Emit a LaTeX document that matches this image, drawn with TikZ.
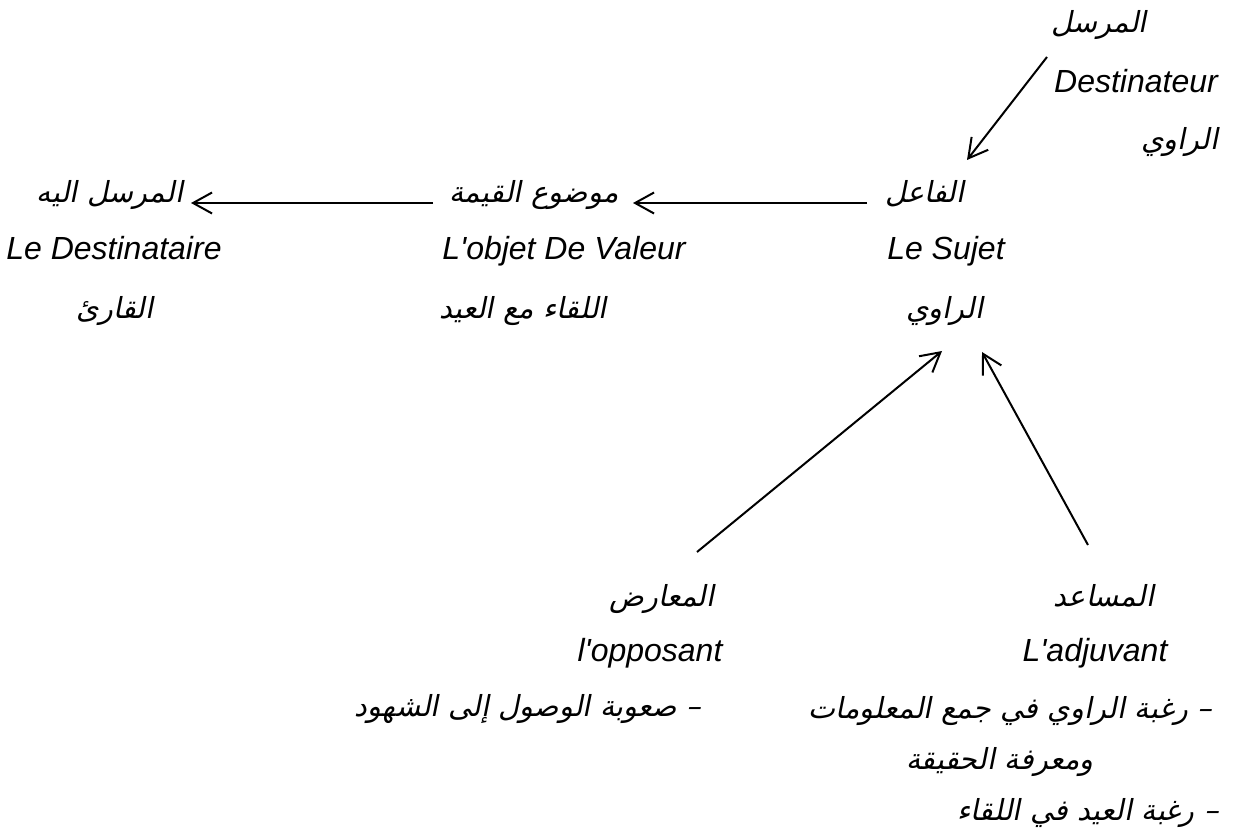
\documentclass[tikz,border=0pt]{standalone}
\usepackage{fontspec}
\setmainfont{Liberation Sans}
\newfontfamily\arabicfont[Script=Arabic,FakeSlant=0.2]{DejaVu Sans}
\TeXXeTstate=1
\usetikzlibrary{arrows.meta}
\newcommand{\artxt}[1]{\beginR #1\endR}
\tikzset{
	lat/.style={font=\fontsize{32}{38}\selectfont\itshape, inner sep=0pt, anchor=base},
	arb/.style={font=\fontsize{29}{35}\selectfont\arabicfont, inner sep=0pt, anchor=base},
	link/.style={line width=2pt, -{Straight Barb[length=19pt,width=21pt]}}
}
\begin{document}
\begin{tikzpicture}[x=1pt,y=-1pt]
			\useasboundingbox (0,0) rectangle (1235,834);
			\node [arb] (dest-ar) at (1099,33) {\artxt{المرسل}};
			\node [lat] (dest-lat) at (1136,93) {Destinateur};
			\node [arb] (dest-nar) at (1180,150) {\artxt{الراوي}};
			\node [arb] (subj-ar) at (925,203) {\artxt{الفاعل}};
			\node [lat] (subj-lat) at (946,260) {Le Sujet};
			\node [arb] (subj-nar) at (945,319) {\artxt{الراوي}};
			\node [arb] (obj-ar) at (534,203) {\artxt{موضوع القيمة}};
			\node [lat] (obj-lat) at (564,260) {L\textquotesingle objet De Valeur};
			\node [arb] (obj-val) at (523,319) {\artxt{اللقاء مع العيد}};
			\node [arb] (recv-ar) at (110,203) {\artxt{المرسل اليه}};
			\node [lat] (recv-lat) at (114,260) {Le Destinataire};
			\node [arb] (recv-nar) at (115,319) {\artxt{القارئ}};
			\node [arb] (opp-ar) at (662,606) {\artxt{المعارض}};
			\node [lat] (opp-lat) at (650,661) {l\textquotesingle opposant};
			\node [arb] (opp-item) at (528,716) {\artxt{– صعوبة الوصول إلى الشهود}};
			\node [arb] (help-ar) at (1104,606) {\artxt{المساعد}};
			\node [lat] (help-lat) at (1095,661) {L\textquotesingle adjuvant};
			\node [arb] (help-item) at (1010,718) {\artxt{– رغبة الراوي في جمع المعلومات}};
			\node [arb] (help-more) at (1000,769) {\artxt{ومعرفة الحقيقة}};
			\node [arb] (help-last) at (1088,820) {\artxt{– رغبة العيد في اللقاء}};
			\coordinate (dest-tail) at (1047,57);
			\coordinate (dest-tip) at (967,160);
			\coordinate (opp-tail) at (697,552);
			\coordinate (opp-tip) at (942,351);
			\coordinate (help-tail) at (1088,545);
			\coordinate (help-tip) at (982,352);
			\draw [link] (dest-tail) -- (dest-tip);
			\draw [link] (subj-ar.base west -| 867,0) -- (633,203);
			\draw [link] (obj-ar.base west -| 433,0) -- (191,203);
			\draw [link] (opp-tail) -- (opp-tip);
			\draw [link] (help-tail) -- (help-tip);
		\end{tikzpicture}
\end{document}
